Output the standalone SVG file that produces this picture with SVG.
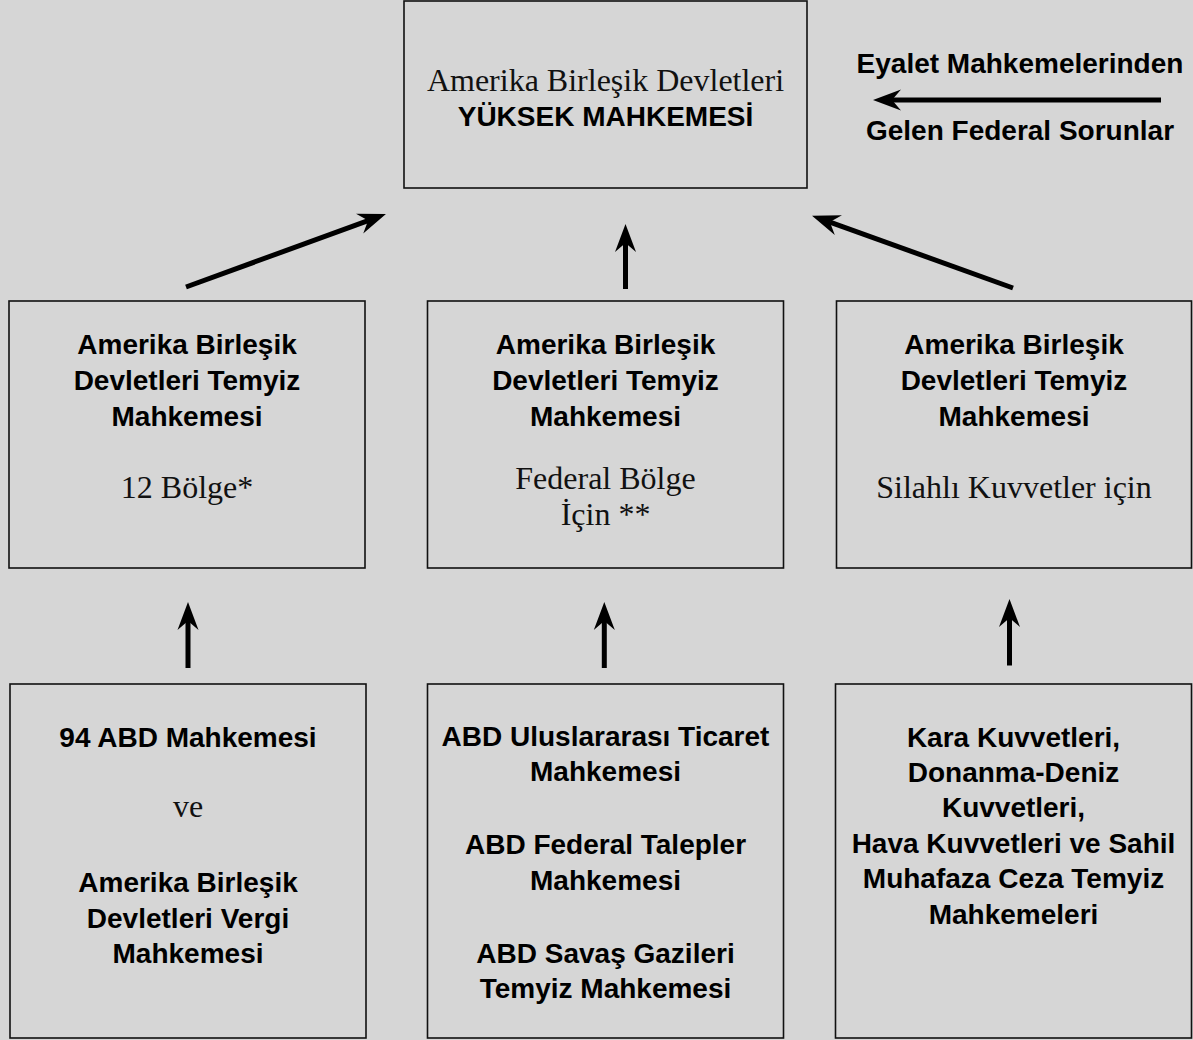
<svg xmlns="http://www.w3.org/2000/svg" width="1193" height="1040" viewBox="0 0 1193 1040">
<style>
.box{fill:#d6d6d6;stroke:#111;stroke-width:1.6}
.b{font-family:"Liberation Sans",Arial,sans-serif;font-weight:bold;font-size:28px;fill:#000;text-anchor:middle}
.s{font-family:"Liberation Serif","Times New Roman",serif;font-size:32px;fill:#111;text-anchor:middle}
.arr{stroke:#000;stroke-width:5;fill:none;marker-end:url(#ah)}
</style>
<defs>
<marker id="ah" markerUnits="userSpaceOnUse" viewBox="0 0 28 22" refX="9" refY="11" markerWidth="28" markerHeight="22" orient="auto">
<path d="M28,11 L0,0.5 L9,11 L0,21.5 Z" fill="#000"/>
</marker>
</defs>
<rect x="0" y="0" width="1193" height="1040" fill="#d6d6d6"/>
<g id="supreme">
<rect class="box" x="404" y="1" width="403" height="187"/>
<text class="s" x="605.5" y="91">Amerika Birleşik Devletleri</text>
<text class="b" x="605.5" y="126">YÜKSEK MAHKEMESİ</text>
</g>
<g id="state-note">
<text class="b" x="1020" y="73">Eyalet Mahkemelerinden</text>
<text class="b" x="1020" y="140">Gelen Federal Sorunlar</text>
</g>
<g id="appeals-12">
<rect class="box" x="9" y="301" width="356" height="267"/>
<text class="b" x="187" y="354">Amerika Birleşik</text>
<text class="b" x="187" y="390">Devletleri Temyiz</text>
<text class="b" x="187" y="426">Mahkemesi</text>
<text class="s" x="187" y="498">12 Bölge*</text>
</g>
<g id="appeals-federal">
<rect class="box" x="427.5" y="301" width="356" height="267"/>
<text class="b" x="605.5" y="354">Amerika Birleşik</text>
<text class="b" x="605.5" y="390">Devletleri Temyiz</text>
<text class="b" x="605.5" y="426">Mahkemesi</text>
<text class="s" x="605.5" y="489">Federal Bölge</text>
<text class="s" x="605.5" y="525">İçin **</text>
</g>
<g id="appeals-armed">
<rect class="box" x="836.5" y="301" width="355" height="267"/>
<text class="b" x="1014" y="354">Amerika Birleşik</text>
<text class="b" x="1014" y="390">Devletleri Temyiz</text>
<text class="b" x="1014" y="426">Mahkemesi</text>
<text class="s" x="1014" y="498">Silahlı Kuvvetler için</text>
</g>
<g id="district">
<rect class="box" x="10" y="684" width="356" height="354"/>
<text class="b" x="188" y="747">94 ABD Mahkemesi</text>
<text class="s" x="188" y="817">ve</text>
<text class="b" x="188" y="892">Amerika Birleşik</text>
<text class="b" x="188" y="928">Devletleri Vergi</text>
<text class="b" x="188" y="963">Mahkemesi</text>
</g>
<g id="special">
<rect class="box" x="427.5" y="684" width="356" height="354"/>
<text class="b" x="605.5" y="746">ABD Uluslararası Ticaret</text>
<text class="b" x="605.5" y="781">Mahkemesi</text>
<text class="b" x="605.5" y="854">ABD Federal Talepler</text>
<text class="b" x="605.5" y="890">Mahkemesi</text>
<text class="b" x="605.5" y="963">ABD Savaş Gazileri</text>
<text class="b" x="605.5" y="998">Temyiz Mahkemesi</text>
</g>
<g id="military">
<rect class="box" x="835.5" y="684" width="356" height="354"/>
<text class="b" x="1013.5" y="747">Kara Kuvvetleri,</text>
<text class="b" x="1013.5" y="782">Donanma-Deniz</text>
<text class="b" x="1013.5" y="817">Kuvvetleri,</text>
<text class="b" x="1013.5" y="853">Hava Kuvvetleri ve Sahil</text>
<text class="b" x="1013.5" y="888">Muhafaza Ceza Temyiz</text>
<text class="b" x="1013.5" y="924">Mahkemeleri</text>
</g>
<g id="connectors">
<line class="arr" x1="186" y1="287" x2="368.1" y2="220.6"/>
<line class="arr" x1="625.5" y1="289" x2="625.5" y2="243"/>
<line class="arr" x1="1013" y1="288" x2="829.9" y2="222.1"/>
<line class="arr" x1="188" y1="668" x2="188" y2="621"/>
<line class="arr" x1="604.3" y1="668" x2="604.3" y2="621"/>
<line class="arr" x1="1009.5" y1="665.5" x2="1009.5" y2="618"/>
<line class="arr" x1="1161" y1="100" x2="892" y2="100"/>
</g>
</svg>
